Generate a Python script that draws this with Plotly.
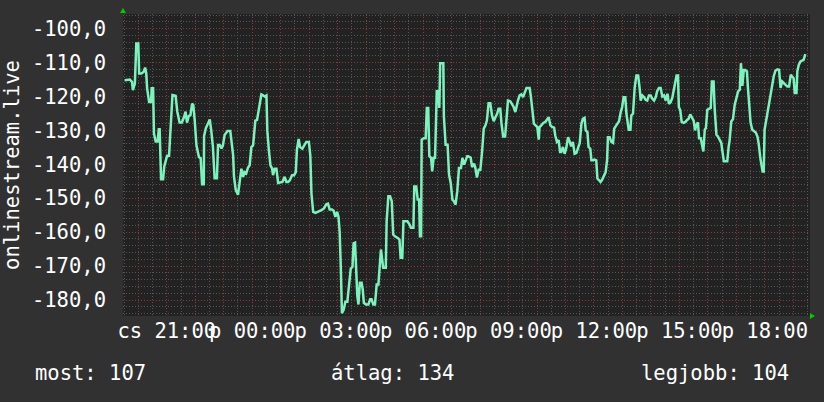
import plotly.graph_objects as go

# time of day in hours (24+ = next day, Friday), value of the series
TIMES = [
    19.52, 19.70, 19.78, 19.81, 19.88, 19.93, 20.00, 20.03, 20.11, 20.19, 20.24, 20.28, 20.31, 20.38,
    20.45, 20.47, 20.52, 20.55, 20.61, 20.68, 20.72, 20.75, 20.80, 20.87, 20.91, 20.96, 21.01, 21.08,
    21.14, 21.20, 21.31, 21.37, 21.45, 21.53, 21.60, 21.66, 21.71, 21.77, 21.83, 21.89, 21.93, 21.98,
    22.04, 22.13, 22.19, 22.24, 22.30, 22.31, 22.37, 22.45, 22.51, 22.56, 22.62, 22.68, 22.76, 22.80,
    22.86, 22.92, 22.97, 23.03, 23.13, 23.23, 23.28, 23.33, 23.36, 23.42, 23.50,
    23.56, 23.62, 23.68, 23.73, 23.79, 23.85, 23.91, 23.97, 24.03, 24.06, 24.11, 24.17, 24.23, 24.29,
    24.32, 24.38, 24.44, 24.50, 24.53, 24.58, 24.64, 24.70, 24.73, 24.79, 24.85, 24.91, 25.00, 25.06,
    25.14, 25.20, 25.26, 25.32, 25.40, 25.47, 25.53, 25.57, 25.63, 25.68, 25.76, 25.84, 25.90, 25.99,
    26.04, 26.08, 26.14, 26.22, 26.31, 26.43, 26.52, 26.60, 26.66, 26.72, 26.80, 26.86, 26.92, 26.98,
    27.03, 27.07, 27.11, 27.15, 27.21, 27.27, 27.34, 27.40, 27.46, 27.52, 27.56,
    27.61, 27.64, 27.69, 27.73, 27.78, 27.84, 27.88, 27.92, 27.99, 28.08, 28.14, 28.19, 28.25, 28.31,
    28.37, 28.43, 28.46, 28.52, 28.60, 28.69, 28.72, 28.78, 28.84, 28.90, 28.95, 29.01, 29.11, 29.17,
    29.21, 29.27, 29.31, 29.36, 29.45, 29.52, 29.57, 29.66, 29.69, 29.76, 29.81, 29.86, 29.89, 29.93,
    29.95, 30.02, 30.09, 30.13, 30.18, 30.22, 30.28, 30.32, 30.37, 30.42, 30.48, 30.53, 30.57, 30.60,
    30.67, 30.71, 30.73, 30.79, 30.86, 30.91, 30.97, 31.03, 31.08, 31.14, 31.20, 31.26, 31.33, 31.38,
    31.44, 31.49, 31.55,
    31.58, 31.67, 31.72, 31.79, 31.83, 31.89, 31.95, 32.01, 32.07, 32.13, 32.19, 32.24, 32.30, 32.36,
    32.42, 32.48, 32.54, 32.60, 32.65, 32.71, 32.75, 32.81, 32.88, 32.92, 32.98, 33.06, 33.12, 33.18,
    33.24, 33.29, 33.33, 33.39, 33.45, 33.51, 33.57, 33.63, 33.68, 33.74, 33.78, 33.84, 33.89, 33.95,
    34.01, 34.06, 34.09, 34.15, 34.22, 34.29, 34.35, 34.41, 34.47, 34.53, 34.60, 34.64, 34.70, 34.76,
    34.81, 34.85, 34.91, 34.97, 35.03, 35.09, 35.15, 35.20, 35.26, 35.32, 35.38, 35.44, 35.50, 35.56,
    35.61,
    35.67, 35.71, 35.77, 35.81, 35.87, 35.91, 35.97, 36.02, 36.08, 36.12, 36.18, 36.23, 36.29, 36.35,
    36.41, 36.46, 36.49, 36.55, 36.61, 36.67, 36.71, 36.76, 36.82, 36.88, 36.94, 36.99, 37.04, 37.10,
    37.14, 37.17, 37.22, 37.28, 37.31, 37.37, 37.43, 37.49, 37.55, 37.60, 37.64, 37.70, 37.76, 37.81,
    37.87, 37.93, 37.99, 38.05, 38.11, 38.17, 38.22, 38.28, 38.34, 38.40, 38.46, 38.52, 38.58, 38.63,
    38.69, 38.75, 38.80, 38.86, 38.90, 38.95, 38.98, 39.03, 39.08, 39.15, 39.21, 39.27, 39.32, 39.38,
    39.44, 39.50, 39.55, 39.59,
    39.65, 39.69, 39.75, 39.79, 39.84, 39.89, 39.93, 39.98, 40.04, 40.10, 40.14, 40.20, 40.24, 40.30,
    40.35, 40.41, 40.47, 40.51, 40.56, 40.62, 40.68, 40.73, 40.76, 40.82, 40.88, 40.94, 41.00, 41.06,
    41.12, 41.16, 41.21, 41.26, 41.31, 41.37, 41.41, 41.47, 41.50, 41.56, 41.62, 41.68, 41.74, 41.78,
    41.84, 41.88, 41.92, 41.96, 41.99, 42.04, 42.09, 42.15, 42.20, 42.25, 42.31, 42.37, 42.44, 42.50,
    42.55, 42.61, 42.67, 42.73, 42.79, 42.85, 42.91, 42.96, 43.01, 43.05, 43.11, 43.14, 43.19, 43.25,
    43.30, 43.36, 43.42,
]
VALUES = [
    -115.2, -115.0, -115.7, -118.1, -116.2, -104.4, -104.4, -113.2, -113.2, -112.7, -111.5, -113.2, -117.6, -121.6,
    -121.6, -117.6, -117.6, -130.9, -133.3, -133.3, -129.7, -129.7, -144.4, -144.4, -140.7, -139.2, -137.5, -137.5,
    -128.9, -119.6, -119.8, -124.5, -127.7, -127.7, -126.2, -124.5, -127.7, -125.8, -125.5, -122.1, -122.5, -126.8,
    -134.3, -137.9, -138.2, -145.9, -145.9, -131.7, -129.4, -127.9, -126.8, -129.9, -134.8, -144.1, -144.1, -134.3,
    -134.3, -135.3, -134.5, -131.4, -130.2, -130.2, -133.8, -137.3, -143.6, -147.5, -149.0,
    -144.2, -141.3, -143.7, -142.3, -142.7, -141.0, -140.3, -134.9, -134.4, -131.0, -127.1, -126.9, -123.9, -121.2,
    -119.4, -119.7, -120.0, -119.7, -130.0, -135.4, -140.3, -141.3, -143.2, -141.3, -141.3, -145.5, -145.2, -145.2,
    -143.7, -145.2, -145.2, -144.7, -143.2, -143.2, -142.3, -135.7, -132.5, -134.9, -135.4, -134.4, -133.4, -133.4,
    -137.4, -148.6, -154.0, -154.3, -154.0, -153.5, -153.0, -151.8, -151.6, -153.3, -153.3, -153.7, -155.5, -154.0,
    -155.5, -159.9, -170.2, -183.9, -182.9, -180.5, -180.5, -174.6, -170.7, -170.2, -163.3,
    -163.1, -171.0, -178.8, -181.3, -174.9, -174.9, -176.9, -180.8, -181.3, -181.3, -179.8, -179.8, -181.3, -181.3,
    -175.4, -175.4, -171.0, -165.1, -170.5, -170.5, -156.8, -149.4, -149.4, -150.9, -160.7, -161.2, -161.7, -162.2,
    -167.5, -167.5, -156.8, -156.8, -156.8, -157.7, -158.7, -158.7, -146.5, -146.5, -150.4, -150.4, -161.2, -161.2,
    -132.7, -132.3, -132.3, -123.4, -123.4, -137.6, -138.1, -142.1, -138.1, -138.1, -118.5, -118.5, -123.4, -110.2,
    -110.2, -110.2, -125.9, -134.2, -134.2, -143.0, -145.5, -150.4, -150.9, -151.9, -147.9, -141.1, -141.1, -138.1,
    -140.1, -138.6, -137.6,
    -137.6, -138.0, -140.8, -139.8, -140.8, -143.9, -141.6, -141.6, -136.4, -129.5, -128.5, -127.1, -122.0, -122.0,
    -125.6, -127.3, -126.1, -125.1, -123.6, -123.6, -127.8, -131.8, -131.8, -126.6, -121.2, -121.4, -122.2, -123.1,
    -124.6, -122.2, -121.2, -119.7, -119.4, -120.2, -119.0, -117.5, -117.5, -117.5, -119.7, -124.1, -128.0, -128.5,
    -129.0, -132.7, -129.0, -128.5, -127.8, -127.5, -126.6, -126.1, -128.5, -129.0, -129.2, -131.5, -133.4, -132.9,
    -136.4, -136.4, -134.9, -136.9, -135.1, -132.0, -133.4, -134.7, -133.4, -136.9, -136.7, -134.9, -133.7, -128.0,
    -126.6,
    -126.3, -130.0, -130.5, -134.9, -135.4, -138.8, -138.8, -138.6, -138.8, -144.2, -144.7, -145.2, -144.5, -143.2,
    -142.3, -138.8, -132.0, -132.0, -133.4, -133.7, -129.5, -128.8, -128.2, -127.3, -124.6, -123.1, -120.2, -120.2,
    -125.1, -127.5, -129.8, -129.8, -125.6, -125.1, -117.3, -113.8, -113.8, -117.3, -121.2, -119.7, -120.2, -121.0,
    -121.2, -119.7, -119.7, -120.7, -121.2, -120.2, -118.4, -117.5, -117.5, -120.0, -119.7, -121.2, -119.2, -122.2,
    -121.7, -120.4, -118.4, -116.3, -113.8, -113.8, -123.1, -124.1, -127.5, -127.8, -127.5, -126.9, -126.6, -125.3,
    -126.3, -127.1, -130.0, -128.5,
    -127.6, -132.3, -132.3, -134.2, -136.2, -129.8, -129.3, -123.9, -123.7, -123.4, -115.6, -115.6, -123.9, -131.3,
    -131.8, -132.7, -133.7, -136.2, -139.1, -139.1, -139.1, -134.7, -133.2, -127.4, -126.7, -122.5, -120.2, -118.5,
    -118.0, -110.2, -116.9, -112.2, -112.2, -112.6, -118.0, -123.9, -127.8, -129.8, -130.3, -130.6, -131.8, -133.7,
    -138.1, -140.1, -142.1, -142.1, -129.8, -127.4, -124.9, -122.0, -119.0, -117.1, -114.1, -112.4, -112.0, -112.2,
    -117.5, -115.6, -116.1, -116.9, -117.1, -117.1, -113.6, -114.1, -114.6, -119.0, -119.0, -112.6, -110.7, -109.7,
    -109.4, -109.2, -107.5,
]

X_RANGE = [19.463, 43.585]
Y_RANGE = [-184.7, -95.7]

HOUR_TICKS = list(range(20, 44))
HOUR_LABELS = {21: "cs 21:00", 24: "p 00:00", 27: "p 03:00", 30: "p 06:00",
               33: "p 09:00", 36: "p 12:00", 39: "p 15:00", 42: "p 18:00"}
Y_TICKS = [-180, -170, -160, -150, -140, -130, -120, -110, -100]
Y_LABELS = ["-180,0", "-170,0", "-160,0", "-150,0", "-140,0", "-130,0", "-120,0", "-110,0", "-100,0"]

SERIES_NAME = "onlinestream.live"
SUMMARY = [("most: 107", 33, "left"), ("átlag: 134", 392, "center"), ("legjobb: 104", 791, "right")]

BACK = "#313131"
CANVAS = "#222222"
LINE = "#7cf2bd"
MAJOR = "#8a3a3a"
MINOR = "#565656"
ARROW = "#00cc00"
FONT = "DejaVu Sans Mono, monospace"
FONT_SIZE = 20.5

W, H = 824, 402
L, R, T, B = 123, 810, 14, 316


def px_x(px):
    return (px - L) / (R - L)


def px_y(py):
    return (B - py) / (B - T)


text_font = {"family": FONT, "size": FONT_SIZE, "color": "#ffffff"}

fig = go.Figure(go.Scatter(
    x=TIMES, y=VALUES, mode="lines",
    line={"color": LINE, "width": 2.5},
    name=SERIES_NAME, hoverinfo="skip",
))

fig.update_layout(
    width=W, height=H,
    margin={"l": L, "r": W - R, "t": T, "b": H - B, "autoexpand": False},
    paper_bgcolor=BACK, plot_bgcolor=CANVAS,
    font=text_font,
    showlegend=False,
)

fig.update_xaxes(
    range=X_RANGE, tickmode="array", tickvals=HOUR_TICKS,
    ticktext=[HOUR_LABELS.get(h, "") for h in HOUR_TICKS],
    tickangle=0, showgrid=True, gridcolor=MAJOR, griddash="1px,2px", gridwidth=1,
    zeroline=False, showline=False, ticks="", automargin=False,
    tickfont=text_font,
    minor={"tickmode": "linear", "tick0": 0, "dtick": 0.5, "showgrid": True,
           "gridcolor": MINOR, "griddash": "1px,2px", "gridwidth": 1},
)
fig.update_yaxes(
    range=Y_RANGE, tickmode="array", tickvals=Y_TICKS, ticktext=Y_LABELS,
    showgrid=True, gridcolor=MAJOR, griddash="1px,2px", gridwidth=1,
    zeroline=False, showline=False, ticks="", ticklabelstandoff=16, automargin=False,
    tickfont=text_font,
    title={"text": SERIES_NAME, "font": text_font, "standoff": 8},
    minor={"tickmode": "linear", "tick0": 0, "dtick": 2, "showgrid": True,
           "gridcolor": MINOR, "griddash": "1px,2px", "gridwidth": 1},
)

# rrdtool style axis arrows
fig.add_shape(type="path", xref="paper", yref="paper", xsizemode="pixel", ysizemode="pixel",
              xanchor=0, yanchor=1, path="M -3,1 L 3,1 L 0,6 Z",
              fillcolor=ARROW, line={"width": 0})
fig.add_shape(type="path", xref="paper", yref="paper", xsizemode="pixel", ysizemode="pixel",
              xanchor=1, yanchor=0, path="M 0,3 L 0,-3 L 5,0 Z",
              fillcolor=ARROW, line={"width": 0})

for text, px, anchor in SUMMARY:
    fig.add_annotation(text=text, xref="paper", yref="paper", x=px_x(px), y=px_y(373),
                       xanchor=anchor, yanchor="middle", showarrow=False, font=text_font)

fig.write_html("out.html", config={"displayModeBar": False},
               post_script=f"document.body.style.margin='0';document.body.style.background='{BACK}';")
